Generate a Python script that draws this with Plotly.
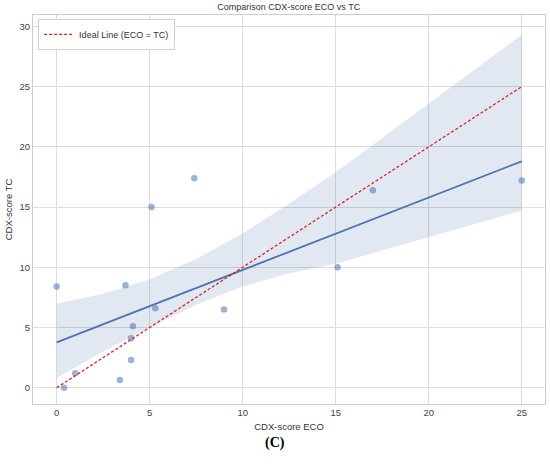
import numpy as np
import plotly.graph_objects as go

# CDX scores
eco_scores = [0.0, 3.7, 5.3, 4.1, 4.0, 4.0, 3.4, 1.0, 0.4, 9.0, 5.1, 7.4, 17.0, 25.0, 15.1]
tc_scores = [8.4, 8.5, 6.6, 5.1, 4.1, 2.3, 0.65, 1.2, 0.0, 6.5, 15.0, 17.4, 16.4, 17.2, 10.0]
ideal_range = [0, 25]

# 95% confidence band of the regression
band_x = [0, 2.5, 5, 7.5, 10, 12.5, 15, 20, 25]
band_upper = [7.0, 7.8, 9.0, 10.7, 12.8, 15.3, 17.9, 23.6, 29.3]
band_lower = [0.8, 3.0, 5.0, 6.9, 8.4, 9.5, 10.3, 12.5, 14.7]

x = np.array(eco_scores)
y = np.array(tc_scores)
slope, intercept = np.polyfit(x, y, 1)
fit_x = [x.min(), x.max()]
fit_y = [intercept + slope * v for v in fit_x]

blue = '#4c72b0'

fig = go.Figure()
fig.add_trace(go.Scatter(x=band_x + band_x[::-1], y=band_upper + band_lower[::-1], mode='lines',
                         fill='toself', fillcolor='rgba(76,114,176,0.16)', line=dict(width=0),
                         hoverinfo='skip', showlegend=False))
fig.add_trace(go.Scatter(x=fit_x, y=fit_y, mode='lines', line=dict(color=blue, width=1.8), showlegend=False))
fig.add_trace(go.Scatter(x=eco_scores, y=tc_scores, mode='markers',
                         marker=dict(color=blue, opacity=0.55, size=6.5), showlegend=False))
fig.add_trace(go.Scatter(x=ideal_range, y=ideal_range, mode='lines', name='Ideal Line (ECO = TC)',
                         line=dict(color='#d62728', width=1.3, dash='3px,2px')))

axis_style = dict(showgrid=True, gridcolor='#dcdcdc', gridwidth=1, zeroline=False,
                  showline=True, linecolor='#cccccc', linewidth=1, mirror=True,
                  ticks='', tickfont=dict(size=9.5, color='#444444'), automargin=False)

fig.update_layout(
    width=550, height=467,
    margin=dict(l=33, r=5, t=15, b=63),
    paper_bgcolor='white', plot_bgcolor='white',
    font=dict(family='Liberation Sans, Arial, sans-serif', color='#333333'),
    title=dict(text='Comparison CDX-score ECO vs TC', x=0.525, xanchor='center', y=0.993, yanchor='top',
               font=dict(size=9, color='#333333')),
    xaxis=dict(axis_style, range=[-1.27, 26.25], tickvals=[0, 5, 10, 15, 20, 25],
               title=dict(text='CDX-score ECO', font=dict(size=9.5), standoff=5)),
    yaxis=dict(axis_style, range=[-1.35, 30.95], tickvals=[0, 5, 10, 15, 20, 25, 30],
               title=dict(text='CDX-score TC', font=dict(size=9.5), standoff=5)),
    legend=dict(x=0.01, y=0.99, xanchor='left', yanchor='top', bgcolor='white',
                bordercolor='#d0d0d0', borderwidth=1, font=dict(size=9, color='#333333')),
    annotations=[dict(text='<b>(C)</b>', x=0.473, y=-0.1, xref='paper', yref='paper',
                      xanchor='center', yanchor='middle', showarrow=False,
                      font=dict(family='Liberation Serif, Times New Roman, serif', size=14, color='black'))],
)

# drop the default page margin so the figure sits at the window's corner
fig.write_html("out.html", config={'displayModeBar': False},
               post_script="document.body.style.margin='0';")
